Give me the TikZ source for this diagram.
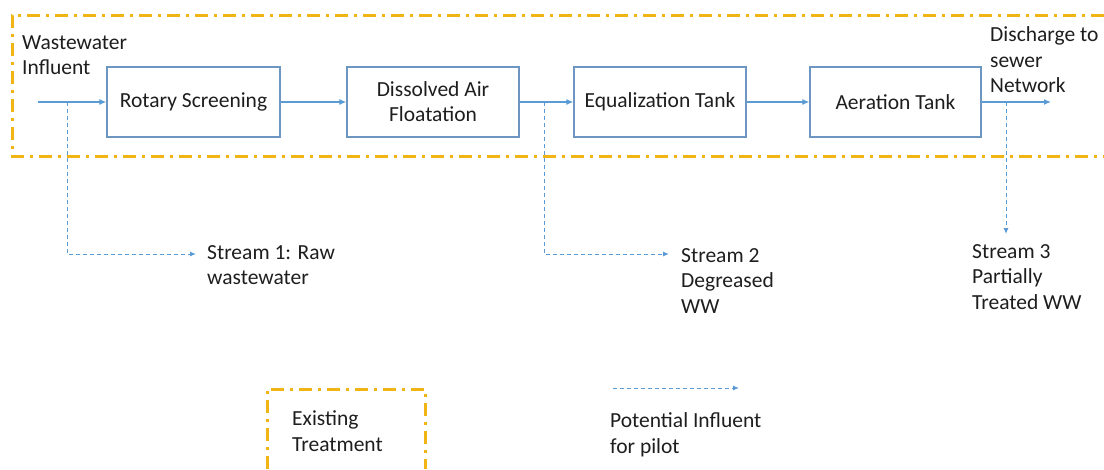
\documentclass[tikz,border=0pt]{standalone}
\usepackage{fontspec}
\setmainfont{Carlito}
\usetikzlibrary{arrows.meta}
\definecolor{flow}{RGB}{91,155,213}
\definecolor{boxline}{RGB}{110,150,195}
\definecolor{exist}{RGB}{240,180,20}
\definecolor{txt}{RGB}{30,30,30}
\tikzset{
  procbox/.style={draw=boxline, line width=1.3pt, minimum height=70pt, inner sep=0pt, text=txt, align=center, font=\fontsize{21.5}{25}\selectfont},
  lbl/.style={inner sep=0pt, text=txt, align=left, font=\fontsize{21.5}{25.5}\selectfont},
  flowarrow/.style={draw=flow, line width=1.2pt, -{Latex[length=7pt,width=6pt]}},
  potential/.style={draw=flow, line width=1pt, dash pattern=on 4pt off 3pt, -{Latex[length=6pt,width=5pt]}},
  existing/.style={draw=exist, line width=3pt, dash pattern=on 13pt off 6pt on 3pt off 6pt}
}
\begin{document}
\begin{tikzpicture}[x=1pt,y=-1pt]
\useasboundingbox (0,0) rectangle (1104,469);
% existing treatment frame (runs off the right edge)
\draw[existing] (1104,15) -- (12,15) -- (12,156) -- (1104,156);
% process boxes
\node[procbox, minimum width=173pt] (rs) at (193.5,102) {Rotary Screening};
\node[procbox, minimum width=172pt] (daf) at (433,102) {Dissolved Air\\Floatation};
\node[procbox, minimum width=172pt] (eq) at (660,102) {Equalization Tank};
\node[procbox, minimum width=171pt] (at) at (895.5,102) {Aeration Tank};
% labels
\node[lbl, anchor=west] (inf) at (22,55) {Wastewater\\Influent};
\node[lbl, anchor=west] (dis) at (990,60) {Discharge to\\sewer\\Network};
\node[lbl, anchor=west] (s1) at (207,265) {Stream 1: Raw\\wastewater};
\node[lbl, anchor=west] (s2) at (681,281) {Stream 2\\Degreased\\WW};
\node[lbl, anchor=west] (s3) at (972,277) {Stream 3\\Partially\\Treated WW};
% coordinates
\coordinate (in) at (38,102);
\coordinate (b1) at (67,102);
\coordinate (c1) at (67,254);
\coordinate (t1) at (196,254);
\coordinate (b2) at (544,102);
\coordinate (c2) at (544,254);
\coordinate (t2) at (669,254);
\coordinate (b3) at (1006,102);
\coordinate (t3) at (1006,234);
\coordinate (out) at (1051,102);
% main flow
\draw[flowarrow] (in) -- (rs.west);
\draw[flowarrow] (rs.east) -- (daf.west);
\draw[flowarrow] (daf.east) -- (eq.west);
\draw[flowarrow] (eq.east) -- (at.west);
\draw[flowarrow] (at.east) -- (out);
% potential influent branches
\draw[potential] (b1) -- (c1) -- (t1);
\draw[potential] (b2) -- (c2) -- (t2);
\draw[potential] (b3) -- (t3);
% legend
\draw[existing] (267,469) -- (267,389) -- (425,389) -- (425,469);
\node[lbl, anchor=west] (lex) at (292,431) {Existing\\Treatment};
\coordinate (la) at (613,388);
\coordinate (lb) at (739,388);
\draw[potential] (la) -- (lb);
\node[lbl, anchor=west] (lpot) at (610,435) {Potential Influent\\for pilot};
\end{tikzpicture}
\end{document}
